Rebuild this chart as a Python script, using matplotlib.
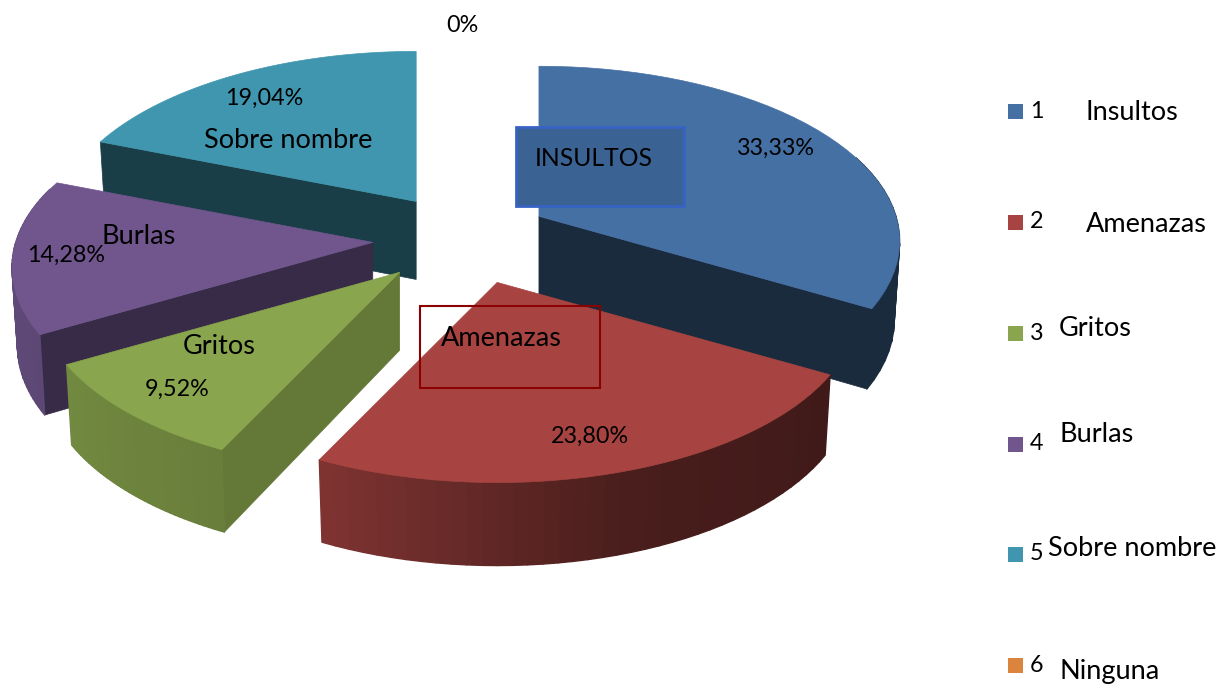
import numpy as np
import matplotlib
matplotlib.use("Agg")
import matplotlib.pyplot as plt
from matplotlib.collections import PolyCollection
from matplotlib.colors import to_rgb
from matplotlib.patches import Rectangle

# Data
values = [33.33, 23.80, 9.52, 14.28, 19.04, 0.0]
pct_labels = ["33,33%", "23,80%", "9,52%", "14,28%", "19,04%", "0%"]
legend_numbers = ["1", "2", "3", "4", "5", "6"]
legend_names = ["Insultos", "Amenazas", "Gritos", "Burlas", "Sobre nombre", "Ninguna"]

# Style
colors = ["#4570a4", "#a74441", "#89a54d", "#70568d", "#3f96ae", "#db843d"]
wall_shade = [0.38, 0.40, 0.73, 0.50, 0.41, 0.5]
nudge_x = [-2, 5, -3, -3, 0, 0]

# Pie projection, in pixels
cx, cy = 465, 239
rx, ry = 357, 171.5
persp = 0.143
explode = 0.25
explode_y = 0.265
depth = 78
bottom_scale = 0.985

plt.rcParams['font.family'] = ['Lato', 'DejaVu Sans']

fig = plt.figure(figsize=(12.23, 6.84), dpi=100)
ax = fig.add_axes([0, 0, 1, 1])
ax.set_xlim(0, 1223)
ax.set_ylim(684, 0)
ax.axis('off')


def project(theta, r=1.0):
    # theta in radians, clockwise from the top of the pie
    u = r * np.sin(theta)
    v = -r * np.cos(theta)
    s = 1 / (1 - persp * v)
    return rx * u * s, ry * v * s


def lower(px, py):
    # same point on the bottom face of the slice
    return px * bottom_scale, py * 1.025 + depth


def shade(color, f):
    return tuple(c * f for c in to_rgb(color))


def rim_factor(theta):
    # outer edge is lit from the left
    return np.interp(np.sin(theta), [-1, -0.43, 0.3, 0.87], [0.85, 0.76, 0.44, 0.38])


fractions = np.array(values) / sum(values)
edges = np.concatenate([[0], np.cumsum(fractions)]) * 2 * np.pi

# back slices first
for i in [4, 0, 3, 2, 1]:
    start, end = edges[i], edges[i + 1]
    mid = (start + end) / 2
    ox = cx + nudge_x[i] + project(mid, explode)[0]
    oy = cy - ry * explode_y * np.cos(mid)

    t = np.linspace(start, end, 41)
    px, py = project(t)
    bx, by = lower(px, py)
    x_top, y_top = ox + px, oy + py
    x_bot, y_bot = ox + bx, oy + by

    # radial walls that face the viewer
    mx, my = project(mid)
    for a in [start, end]:
        ex, ey = project(a)
        if (ex * my - ey * mx) * ex < 0:
            lx, ly = lower(ex, ey)
            quad = [(ox, oy), (ox + ex, oy + ey), (ox + lx, oy + ly), (ox, oy + depth)]
            ax.fill(*zip(*quad), color=shade(colors[i], wall_shade[i]), lw=0.5)

    # outer rim as strips for the gradient
    quads, rim_cols = [], []
    for j in range(len(t) - 1):
        if -np.cos(t[j]) < -0.32 and -np.cos(t[j + 1]) < -0.32:
            continue
        quads.append([(x_top[j], y_top[j]), (x_top[j + 1], y_top[j + 1]),
                      (x_bot[j + 1], y_bot[j + 1]), (x_bot[j], y_bot[j])])
        rim_cols.append(shade(colors[i], rim_factor((t[j] + t[j + 1]) / 2)))
    if quads:
        ax.add_collection(PolyCollection(quads, facecolors=rim_cols, edgecolors=rim_cols, linewidths=1.0))

    # top face
    ax.fill(np.r_[ox, x_top], np.r_[oy, y_top], color=colors[i], lw=0.5)

# text boxes on top of the pie
ax.add_patch(Rectangle((516, 127), 168, 79, facecolor="#3a6293", edgecolor="#3763c4", lw=2, zorder=5))
ax.add_patch(Rectangle((420, 306), 180, 82, facecolor="none", edgecolor="#8b0000", lw=1.5, zorder=5))

text_kw = dict(ha='center', va='center', color='black', zorder=6)
ax.text(594, 159, "INSULTOS", fontsize=17.8, **text_kw)
ax.text(501, 338, "Amenazas", fontsize=19.5, **text_kw)
ax.text(288, 141, "Sobre nombre", fontsize=19.5, **text_kw)
ax.text(139, 237, "Burlas", fontsize=19.5, **text_kw)
ax.text(219, 346, "Gritos", fontsize=19.5, **text_kw)

pct_pos = [(776, 148), (590, 436), (177, 389), (66, 255), (264, 98), (462, 26)]
for label, (x, y) in zip(pct_labels, pct_pos):
    ax.text(x, y, label, fontsize=16.8, **text_kw)

# legend
square_y = [104, 215, 326, 437, 547, 658]
number_y = [112, 222, 334, 444, 553, 666]
name_x = [1086, 1086, 1059, 1059, 1048, 1059]
name_y = [112, 225, 329, 435, 548, 671]
for i in range(6):
    ax.add_patch(Rectangle((1008, square_y[i]), 15, 15, facecolor=colors[i], edgecolor='none'))
    ax.text(1030, number_y[i], legend_numbers[i], fontsize=16.8, ha='left', va='center')
    ax.text(name_x[i], name_y[i], legend_names[i], fontsize=19.5, ha='left', va='center')

fig.savefig("out.png", dpi=100)
